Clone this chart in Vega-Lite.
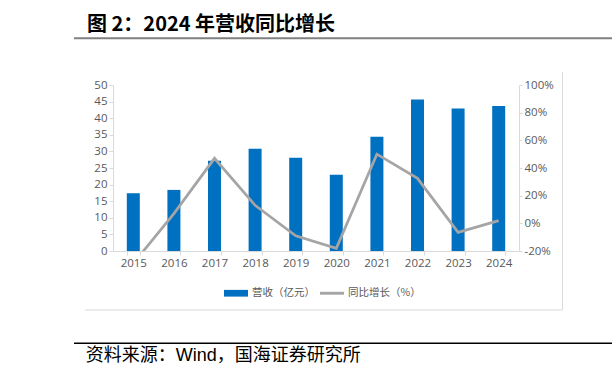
{
  "$schema": "https://vega.github.io/schema/vega-lite/v6.json",
  "width": 406,
  "height": 166,
  "autosize": {"type": "none"},
  "padding": {"left": 113, "top": 85, "right": 93, "bottom": 128},
  "background": "white",
  "config": {"view": {"stroke": null}, "font": "Open Sans"},
  "data": {
    "values": [
      {"year": "2015", "revenue": 17.4, "growth": -29},
      {"year": "2016", "revenue": 18.4, "growth": 7},
      {"year": "2017", "revenue": 27.2, "growth": 47},
      {"year": "2018", "revenue": 30.8, "growth": 13},
      {"year": "2019", "revenue": 28.1, "growth": -9},
      {"year": "2020", "revenue": 23.0, "growth": -18},
      {"year": "2021", "revenue": 34.4, "growth": 50},
      {"year": "2022", "revenue": 45.6, "growth": 32.5},
      {"year": "2023", "revenue": 42.9, "growth": -6.5},
      {"year": "2024", "revenue": 43.7, "growth": 2}
    ]
  },
  "layer": [
    {
      "layer": [
        {
          "mark": {"type": "bar"},
          "encoding": {
            "x": {
              "field": "year",
              "type": "ordinal",
              "scale": {"paddingInner": 0.68, "paddingOuter": 0.34},
              "axis": {
                "title": null,
                "labelAngle": 0,
                "tickBand": "extent",
                "tickSize": 4,
                "tickColor": "#D9D9D9",
                "domainColor": "#D9D9D9",
                "labelColor": "#595959",
                "labelFontSize": 11.5,
                "labelPadding": 2,
                "grid": false
              }
            },
            "y": {
              "field": "revenue",
              "type": "quantitative",
              "scale": {"domain": [0, 50], "nice": false},
              "axis": {
                "title": null,
                "values": [0, 5, 10, 15, 20, 25, 30, 35, 40, 45, 50],
                "grid": false,
                "tickSize": 4,
                "tickColor": "#D9D9D9",
                "domainColor": "#D9D9D9",
                "labelColor": "#595959",
                "labelFontSize": 11.5,
                "labelPadding": 2
              }
            },
            "color": {
              "datum": "营收（亿元）",
              "type": "nominal",
              "scale": {"domain": ["营收（亿元）", "同比增长（%）"], "range": ["#0070C0", "#A5A5A5"]},
              "legend": {
                "orient": "none",
                "legendX": 111,
                "legendY": 196,
                "direction": "horizontal",
                "title": null,
                "symbolSize": 576,
                "labelFontSize": 10.5,
                "labelFont": "Noto Sans CJK SC",
                "labelColor": "#595959",
                "labelOffset": 4,
                "columnPadding": 5,
                "padding": 0,
                "encode": {
                  "symbols": {
                    "update": {
                      "shape": {"signal": "datum.value === '营收（亿元）' ? 'M-1,-0.28H1V0.28H-1Z' : 'M-1,-0.12H1V0.12H-1Z'"},
                      "fill": {"signal": "datum.value === '营收（亿元）' ? '#0070C0' : '#A5A5A5'"},
                      "strokeWidth": {"value": 0},
                      "opacity": {"value": 1},
                      "fillOpacity": {"value": 1}
                    }
                  }
                }
              }
            }
          }
        },
        {
          "mark": {"type": "line", "strokeWidth": 2.75, "clip": true},
          "encoding": {
            "x": {"field": "year", "type": "ordinal"},
            "y": {
              "field": "growth",
              "type": "quantitative",
              "scale": {"domain": [-20, 100], "nice": false},
              "axis": {
                "orient": "right",
                "title": null,
                "values": [-20, 0, 20, 40, 60, 80, 100],
                "labelExpr": "datum.value + '%'",
                "grid": false,
                "tickSize": 3,
                "tickColor": "#D9D9D9",
                "domainColor": "#D9D9D9",
                "labelColor": "#595959",
                "labelFontSize": 11.5,
                "labelPadding": 2
              }
            },
            "color": {"datum": "同比增长（%）", "type": "nominal"}
          }
        }
      ],
      "resolve": {"scale": {"y": "independent"}}
    },
    {
      "data": {"values": [{}]},
      "layer": [
        {
          "mark": {"type": "rule", "color": "#808080", "strokeWidth": 2},
          "encoding": {
            "x": {"datum": -0.0961, "type": "quantitative", "scale": {"domain": [0, 1], "nice": false, "zero": false}, "axis": null},
            "x2": {"datum": 1.2315},
            "y": {"datum": 1.2813, "type": "quantitative", "scale": {"domain": [0, 1], "nice": false, "zero": false}, "axis": null}
          }
        },
        {
          "mark": {"type": "rule", "color": "#000000", "strokeWidth": 1.5},
          "encoding": {
            "x": {"datum": -0.0961, "type": "quantitative"},
            "x2": {"datum": 1.2315},
            "y": {"datum": -0.556, "type": "quantitative"}
          }
        },
        {
          "mark": {"type": "rule", "color": "#D9D9D9", "strokeWidth": 1},
          "encoding": {
            "x": {"datum": 1.1071, "type": "quantitative"},
            "y": {"datum": 1.0783, "type": "quantitative"},
            "y2": {"datum": -0.3554}
          }
        },
        {
          "mark": {"type": "rule", "color": "#D9D9D9", "strokeWidth": 1},
          "encoding": {
            "x": {"datum": -0.069, "type": "quantitative"},
            "x2": {"datum": 1.1071},
            "y": {"datum": -0.3554, "type": "quantitative"}
          }
        },
        {
          "mark": {"type": "text", "text": "图 2：2024 年营收同比增长", "font": "Noto Sans CJK SC", "fontWeight": "bold", "fontSize": 20, "align": "left", "baseline": "middle", "color": "#000000"},
          "encoding": {
            "x": {"datum": -0.064, "type": "quantitative"},
            "y": {"datum": 1.3614, "type": "quantitative"}
          }
        },
        {
          "mark": {"type": "text", "text": "资料来源：Wind，国海证券研究所", "font": "Liberation Sans, Noto Sans CJK SC", "fontSize": 18, "align": "left", "baseline": "middle", "color": "#000000"},
          "encoding": {
            "x": {"datum": -0.0672, "type": "quantitative"},
            "y": {"datum": -0.6325, "type": "quantitative"}
          }
        }
      ]
    }
  ],
  "resolve": {"scale": {"x": "independent", "y": "independent"}}
}
